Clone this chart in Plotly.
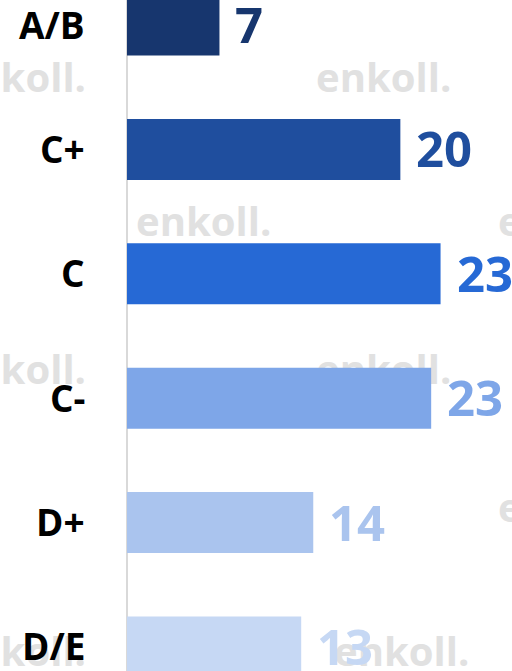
import plotly.graph_objects as go

# ---- data ----
categories = ["A/B", "C+", "C", "C-", "D+", "D/E"]
values = [6.9, 20.4, 23.4, 22.7, 13.9, 13.0]
value_labels = ["7", "20", "23", "23", "14", "13"]
bar_colors = ["#17366E", "#1F4E9E", "#2669D5", "#7EA6E8", "#AAC4EE", "#C6D8F4"]

# ---- watermark (decoration, page pixel positions) ----
wm_text = "enkoll."
# anchored at left edge of text
wm_x = [316, 136, 498, 316, 136, 498, 334]
wm_y = [82, 226, 226, 374, 512, 512, 656]
# anchored at right edge of text (partially visible at page's left)
wm_xr = [86, 86, 86]
wm_yr = [82, 374, 656]

W, H = 512, 671
LEFT = 127          # pixel position of the value axis origin
SCALE = 13.4        # pixels per unit

fig = go.Figure()

wm_font = dict(family="Open Sans", size=40, color="#E1E1E1", weight="bold")
# watermark on base axes (drawn below the bars, which live on overlay axes)
fig.add_trace(go.Scatter(
    x=wm_x, y=wm_y, mode="text", text=[wm_text] * len(wm_x),
    textposition="middle right", textfont=wm_font,
    cliponaxis=False, hoverinfo="skip", showlegend=False,
    xaxis="x", yaxis="y",
))
fig.add_trace(go.Scatter(
    x=wm_xr, y=wm_yr, mode="text", text=[wm_text] * len(wm_xr),
    textposition="middle left", textfont=wm_font,
    cliponaxis=False, hoverinfo="skip", showlegend=False,
    xaxis="x", yaxis="y",
))

fig.add_trace(go.Bar(
    x=values, y=categories, orientation="h",
    marker=dict(color=bar_colors, line=dict(width=0)),
    width=0.49, showlegend=False, hoverinfo="skip",
    xaxis="x2", yaxis="y2",
))

for c in categories:
    fig.add_annotation(
        x=0, y=c, xref="x2", yref="y2", text=c, showarrow=False,
        xanchor="right", yanchor="middle", xshift=-40, yshift=1,
        font=dict(family="Open Sans", size=37, color="black", weight="bold"),
    )

for v, c, lab, col in zip(values, categories, value_labels, bar_colors):
    fig.add_annotation(
        x=v, y=c, xref="x2", yref="y2", text=lab, showarrow=False,
        xanchor="left", yanchor="middle", xshift=14, yshift=1,
        font=dict(family="Open Sans", size=49, color=col, weight="bold"),
    )

fig.update_layout(
    width=W, height=H, autosize=False,
    margin=dict(l=0, r=0, t=0, b=0, pad=0),
    paper_bgcolor="white", plot_bgcolor="white",
    hovermode=False,
    xaxis=dict(range=[0, W], visible=False, fixedrange=True, automargin=False),
    yaxis=dict(range=[H, 0], visible=False, fixedrange=True, automargin=False),
    xaxis2=dict(overlaying="x", anchor="y2",
                range=[-LEFT / SCALE, (W - LEFT) / SCALE],
                showticklabels=False, showgrid=False, ticks="",
                zeroline=True, zerolinecolor="#D9D9D9", zerolinewidth=2,
                showline=False, automargin=False, fixedrange=True),
    yaxis2=dict(overlaying="y", anchor="x2", type="category",
                range=[5.193, -0.201], showticklabels=False, ticks="",
                showgrid=False, zeroline=False, showline=False,
                automargin=False, fixedrange=True),
)

fig.write_html(
    "out.html",
    config={"displayModeBar": False, "staticPlot": True},
    post_script="document.body.style.margin='0';document.body.style.padding='0';"
                "document.body.style.overflow='hidden';",
)
